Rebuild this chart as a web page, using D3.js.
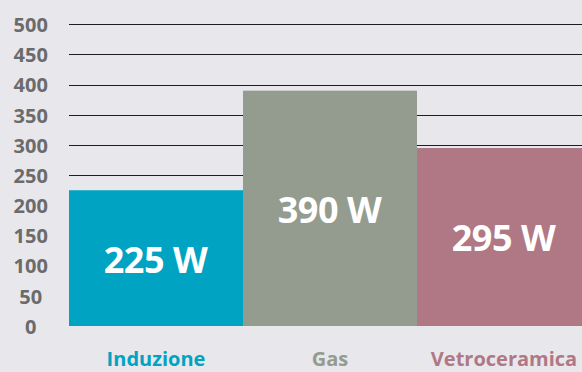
<!DOCTYPE html>
<html>
<head>
<meta charset="utf-8">
<script src="https://cdn.jsdelivr.net/npm/d3@7/dist/d3.min.js"></script>
<style>
  html, body { margin: 0; padding: 0; background: #e8e7ec; overflow: hidden; }
  svg { display: block; font-family: "Open Sans", "DejaVu Sans", sans-serif; }
</style>
</head>
<body>
<svg id="chart" width="582" height="372"></svg>
<script>
// Power draw by cooktop type
const categories = ["Induzione", "Gas", "Vetroceramica"];
const values = [225, 390, 295];
const valueLabels = ["225 W", "390 W", "295 W"];
const colors = ["#00a3c1", "#949b8f", "#b07884"];
const yTicks = [0, 50, 100, 150, 200, 250, 300, 350, 400, 450, 500];

const svg = d3.select("#chart");
const width = 582, height = 372;

svg.append("rect").attr("width", width).attr("height", height).attr("fill", "#e8e7ec");

const y = d3.scaleLinear().domain([0, 500]).range([326, 24.3]);
const x = d3.scaleBand().domain(categories).range([69, 591]).padding(0);

// horizontal grid lines
svg.append("g").selectAll("line")
  .data(yTicks.filter(d => d > 0))
  .join("line")
  .attr("x1", 69).attr("x2", width)
  .attr("y1", d => Math.round(y(d)) + 0.5)
  .attr("y2", d => Math.round(y(d)) + 0.5)
  .attr("stroke", "#1e1e1e")
  .attr("stroke-width", 1);

// y-axis labels
const yAxis = d3.axisLeft(y).tickValues(yTicks).tickSize(0).tickPadding(0);
const yg = svg.append("g").attr("transform", "translate(30.7,0)").call(yAxis);
yg.select(".domain").remove();
yg.selectAll("text")
  .attr("text-anchor", "middle")
  .attr("x", 0)
  .attr("dy", "0.36em")
  .attr("fill", "#6b6b6b")
  .style("font-size", "20px")
  .style("font-weight", "700")
  .style("font-family", "'Open Sans', sans-serif");

// bars
svg.append("g").selectAll("rect")
  .data(categories)
  .join("rect")
  .attr("x", d => x(d))
  .attr("width", x.bandwidth())
  .attr("y", (d, i) => y(values[i]))
  .attr("height", (d, i) => y(0) - y(values[i]))
  .attr("fill", (d, i) => colors[i]);

// value labels inside bars
svg.append("g").selectAll("text")
  .data(categories)
  .join("text")
  .attr("x", d => x(d) + 174 / 2 - 0.5)
  .attr("y", (d, i) => (y(values[i]) + y(0)) / 2 + 1.5)
  .attr("dy", "0.36em")
  .attr("text-anchor", "middle")
  .attr("fill", "#ffffff")
  .style("font-size", "36px")
  .style("font-weight", "700")
  .style("letter-spacing", "-0.5px")
  .text((d, i) => valueLabels[i]);

// category labels
svg.append("g").selectAll("text")
  .data(categories)
  .join("text")
  .attr("x", d => x(d) + 174 / 2)
  .attr("y", 366)
  .attr("text-anchor", "middle")
  .attr("fill", (d, i) => colors[i])
  .style("font-size", "20px")
  .style("font-weight", "700")
  .text(d => d);
</script>
</body>
</html>
